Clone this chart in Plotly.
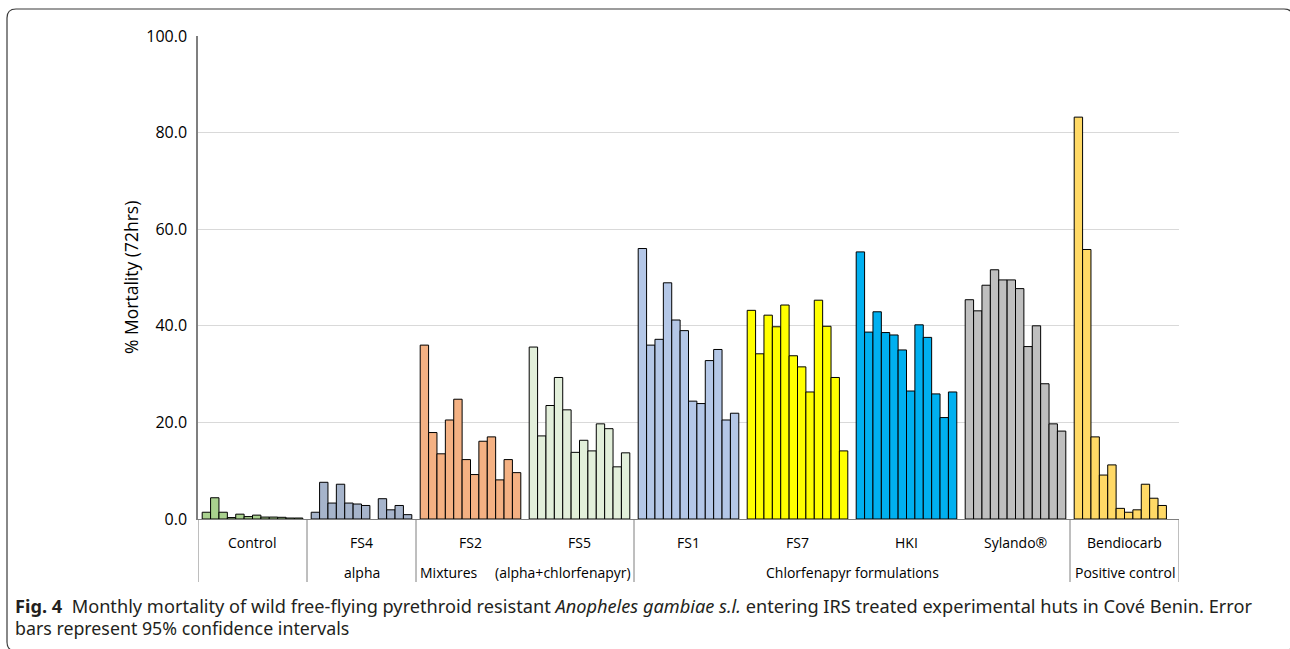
import plotly.graph_objects as go

# ---------------- data ----------------
groups = ["Control", "FS4", "FS2", "FS5", "FS1", "FS7", "HKI", "Sylando®", "Bendiocarb"]
colors = ["#A9D18E", "#A6B4CB", "#F4B183", "#E2EFDA", "#B4C7E7", "#FFFF00", "#00B0F0", "#BFBFBF", "#FFD966"]

control    = [1.4, 4.4, 1.4, 0.3, 1.0, 0.5, 0.8, 0.4, 0.4, 0.35, 0.2, 0.2]
fs4        = [1.4, 7.6, 3.3, 7.2, 3.3, 3.1, 2.8, None, 4.2, 1.9, 2.8, 0.9]
fs2        = [36.0, 17.9, 13.5, 20.5, 24.8, 12.3, 9.2, 16.1, 17.0, 8.1, 12.3, 9.6]
fs5        = [35.6, 17.2, 23.5, 29.3, 22.6, 13.8, 16.3, 14.1, 19.7, 18.7, 10.8, 13.7]
fs1        = [56.0, 36.0, 37.2, 48.9, 41.2, 39.0, 24.4, 23.9, 32.8, 35.1, 20.5, 21.9]
fs7        = [43.2, 34.2, 42.2, 39.8, 44.3, 33.8, 31.5, 26.3, 45.3, 39.9, 29.3, 14.1]
hki        = [55.3, 38.7, 42.9, 38.6, 38.1, 35.0, 26.5, 40.2, 37.6, 25.9, 21.0, 26.3]
sylando    = [45.4, 43.1, 48.4, 51.6, 49.5, 49.5, 47.7, 35.7, 40.0, 28.0, 19.7, 18.2]
bendiocarb = [83.2, 55.8, 17.0, 9.1, 11.2, 2.2, 1.4, 1.9, 7.2, 4.3, 2.8, None]
series = [control, fs4, fs2, fs5, fs1, fs7, hki, sylando, bendiocarb]

# second-level category labels: (text, first group index, last group index)
level2 = [("alpha", 1, 1), ("Mixtures", 2, 2), ("(alpha+chlorfenapyr)", 3, 3),
          ("Chlorfenapyr formulations", 4, 7), ("Positive control", 8, 8)]
separators = [0, 1, 2, 4, 8, 9]  # group boundaries with a divider line

y_ticks = [0, 20, 40, 60, 80, 100]
y_title = "% Mortality (72hrs)"
caption_bold = "Fig. 4"
caption_1 = "Monthly mortality of wild free-flying pyrethroid resistant <i>Anopheles gambiae s.l.</i> entering IRS treated experimental huts in Cové Benin. Error"
caption_2 = "bars represent 95% confidence intervals"

# ---------------- layout geometry ----------------
W, H = 1290, 649
L, R, T, B = 198, 111, 36, 130
PW, PH = W - L - R, H - T - B
SLOTS = 13  # 12 months + 1 spacer per group


def px(x):  # pixel -> paper x
    return (x - L) / PW


def py(y):  # pixel -> paper y
    return (H - B - y) / PH


FONT = "Open Sans"
CAP_FONT = "Noto Sans"

fig = go.Figure()
for g, (name, col, vals) in enumerate(zip(groups, colors, series)):
    fig.add_trace(go.Bar(
        x=[g * SLOTS + 1 + i for i in range(len(vals))],
        y=vals,
        width=1,
        name=name,
        marker=dict(color=col, line=dict(color="#000000", width=1)),
        showlegend=False,
    ))

shapes = []
for s in separators:
    shapes.append(dict(type="line", xref="x", yref="paper", x0=s * SLOTS, x1=s * SLOTS,
                       y0=0, y1=py(582), line=dict(color="#7F7F7F", width=1)))

# outer rounded frame
x0f, y0f, x1f, y1f, r = 7, 9, 1293, 651, 9
path = (f"M {px(x0f)},{py(y1f - r)} L {px(x0f)},{py(y0f + r)} "
        f"Q {px(x0f)},{py(y0f)} {px(x0f + r)},{py(y0f)} "
        f"L {px(x1f - r)},{py(y0f)} Q {px(x1f)},{py(y0f)} {px(x1f)},{py(y0f + r)} "
        f"L {px(x1f)},{py(y1f - r)} Q {px(x1f)},{py(y1f)} {px(x1f - r)},{py(y1f)} "
        f"L {px(x0f + r)},{py(y1f)} Q {px(x0f)},{py(y1f)} {px(x0f)},{py(y1f - r)} Z")
shapes.append(dict(type="path", xref="paper", yref="paper", path=path,
                   line=dict(color="#3A3A3A", width=1.2)))

annotations = []
for g, name in enumerate(groups):
    annotations.append(dict(x=g * SLOTS + SLOTS / 2, y=py(542), xref="x", yref="paper",
                            text=name, showarrow=False, xanchor="center", yanchor="middle",
                            font=dict(family=FONT, size=14, color="#000000")))
for text, g0, g1 in level2:
    if text == "Mixtures":
        xa, xx = "left", g0 * SLOTS + 0.2
    elif text.startswith("(alpha"):
        xa, xx = "right", (g1 + 1) * SLOTS - 0.1
    else:
        xa, xx = "center", (g0 * SLOTS + (g1 + 1) * SLOTS) / 2
    annotations.append(dict(x=xx, y=py(572), xref="x", yref="paper", text=text,
                            showarrow=False, xanchor=xa, yanchor="middle",
                            font=dict(family=FONT, size=14, color="#000000")))

annotations.append(dict(x=px(131), y=py(278), xref="paper", yref="paper", text=y_title,
                        textangle=-90, showarrow=False, xanchor="center", yanchor="middle",
                        font=dict(family=FONT, size=17.5, color="#000000")))
annotations.append(dict(x=px(13), y=py(606), xref="paper", yref="paper",
                        text=f"<b>{caption_bold}</b>  {caption_1}", showarrow=False,
                        xanchor="left", yanchor="middle", align="left",
                        font=dict(family=CAP_FONT, size=18.2, color="#231F20")))
annotations.append(dict(x=px(13), y=py(628), xref="paper", yref="paper",
                        text=caption_2, showarrow=False, xanchor="left", yanchor="middle",
                        align="left", font=dict(family=CAP_FONT, size=17.8, color="#231F20")))

fig.update_layout(
    width=W, height=H,
    margin=dict(l=L, r=R, t=T, b=B, pad=0),
    paper_bgcolor="#FFFFFF", plot_bgcolor="#FFFFFF",
    barmode="overlay",
    shapes=shapes,
    annotations=annotations,
    xaxis=dict(range=[0, len(groups) * SLOTS], showticklabels=False, showgrid=False,
               zeroline=False, showline=True, linecolor="#7F7F7F", linewidth=1, ticks=""),
    yaxis=dict(range=[0, 100], tickvals=y_ticks, ticktext=[f"{v:.1f}" for v in y_ticks],
               showgrid=True, gridcolor="#D9D9D9", gridwidth=1, zeroline=False,
               showline=True, linecolor="#7F7F7F", linewidth=1.5, ticks="",
               ticklabelstandoff=6,
               tickfont=dict(family=FONT, size=16, color="#000000")),
)

fig.write_html("out.html", config={"displayModeBar": False},
               post_script="document.body.style.margin='0';")
